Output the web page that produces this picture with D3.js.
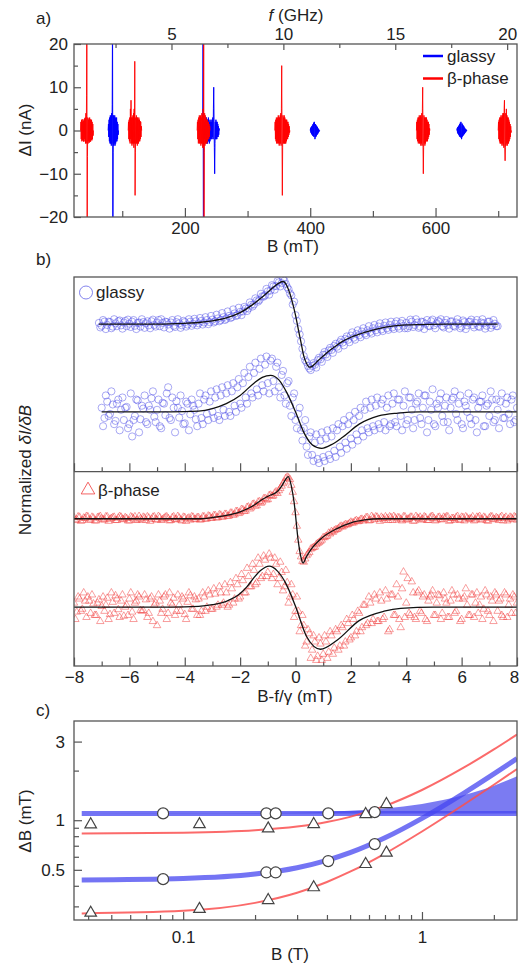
<!DOCTYPE html>
<html>
<head>
<meta charset="utf-8">
<script src="https://cdn.jsdelivr.net/npm/d3@7"></script>
<style>
  body { margin: 0; background: #fff; }
  svg { font-family: "Liberation Sans", Arial, sans-serif; }
</style>
</head>
<body>
<div id="chart"></div>
<script>
// ---------------- panel a: raw traces (field in mT, signal in nA)
const gammaGHz = 0.028;          // GHz per mT
const fieldStep = 0.5;           // mT between samples
const beta43 = [0,2,-2,2.5,-2.5,2,-2.2,2.6,-2.4,2.2,-2.6,2.5,-2,2.8,-2.5,3,-3,4,-3,8,30,-30,-6,3,-3,2.5,-2.5,2.8,-2.8,3,-2.5,2.6,-2.6,2.4,-2.2,2.5,-2.3,2,-2,1.5,-1.2,0];
const beta120 = [0,2,-2,2.5,-2.5,3,-3,5,-2,7,-3,3,-3.5,3,-3,3.5,-3,4,-4,5,-3,16,-15,-5,3,-3,3.5,-3,3,-3.5,3,-3,2.5,-3,3,-2.5,2.5,-2.5,2.2,-2,2,-1.5,1,0];
const beta230 = [0,2,-2,2.5,-3,3,-2.5,3.5,-3,3,-3,3.5,-3.5,3,-3,4,-3,3.5,-4,5,-4,30,-30,-5,4,-3.5,3.5,-3,3,-3,2.5,-3,2.5,-2.5,2,-2,2,-2,1.5,-1.5,1,0];
const beta355 = [0,2,-2,2.5,-2.5,3,-3,2.5,-3,3,-2.5,3.5,-3,3,-3.5,3,-3,3.5,-3,4,-3.5,5,15,-2,-15,-4,3.5,-3,3,-3,3.5,-3,3,-3,2.5,-3,2.5,-2.5,2.5,-2,2,-2,2,-1.5,1.5,-1,1,-0.5,0];
const beta580 = [0,2,-2,2.5,-2.5,3,-3,3,-2.5,3.5,-3,3,-3,3.5,-3.5,3,-3,4,-3.5,5,10,-3,-10,-4,3.5,-3,3,-3.5,3,-3,3,-2.5,3,-2.5,2.5,-2.5,2,-2,2,-1.5,1.5,-1,0.5,0];
const beta710 = [0,2,-2,2.5,-2.5,3,-3,3,-3,3.5,-3,3,-3.5,3.5,-3,4,-3.5,4,-4,5,7,-4,-7,-4,4,-3.5,5,-3,3.5,-3.5,3,-3,3,-3,2.5,-2.5,2,-2,1.5,-1.5,1,-0.5,0];
const glassy85 = [0,1.5,-1.5,2.5,-2.5,3,-3,3.5,-3,3,-3.5,4,-3,6,30,-30,-5,3.5,-3.5,3,-3,3.5,-3.5,3,-3,2.5,-2.5,3,-2.5,2,-2,1.5,-1,0];
const glassy230 = [0,2,30,-30,-2,2,-2,1.5,-1.5,2,-2,2.5,-2.5,3,-3,2.5,-3,2.5,-2.5,3,-2.5,2.5,-3,2,-2.5,2,-2,2.5,-2,2,-2,2.5,-1.5,3,-2,5,10,2,-4,-10,-3,2,-2,2.5,-2,2,-2,2,-1.5,1.5,-1.5,1,-1,0.5,0];
const glassy407 = [0,0.5,-0.5,0.8,-0.8,1,-1,1.2,-1.2,1.5,-1.3,1.8,-1.5,2,1,-2,-1.5,1.5,-1.5,1.2,-1.2,1,-1,0.8,-0.8,0.5,-0.5,0.3,-0.3,0.1,0];
const glassy642 = [0,0.5,-0.5,0.8,-0.8,1,-1,1.2,-1.3,1.5,-1.5,1.8,-1.6,2,1.2,-2,-1.5,1.6,-1.4,1.3,-1.2,1.1,-1,0.9,-0.8,0.6,-0.6,0.4,-0.4,0.3,-0.2,0.1,0];
const glassyBlocks = [
  {start: 77.5, values: glassy85}, {start: 228, values: glassy230},
  {start: 400, values: glassy407}, {start: 634, values: glassy642}
];
const betaBlocks = [
  {start: 33.5, values: beta43}, {start: 109.5, values: beta120},
  {start: 219.5, values: beta230}, {start: 343.5, values: beta355},
  {start: 569.5, values: beta580}, {start: 700, values: beta710}
];
const fieldTicks = [200, 400, 600];
const fieldMinor = [100, 300, 500, 700];
const freqTicks = [5, 10, 15, 20];
const freqMinor = [2.5, 7.5, 12.5, 17.5];
const currentTicks = [-20, -10, 0, 10, 20];
const currentMinor = [-15, -5, 5, 15];

// ---------------- panel b: normalized derivative spectra (B - f/gamma in mT)
// two interleaved sample sets per trace, 0.1 mT apart each
const sweepStep = 0.1;
const glassyNarrowA = [0.03,-0.04,0.06,-0.02,0.05,-0.06,0.02,0.07,-0.03,0.04,-0.05,0.01,0.06,-0.04,0.03,-0.06,0.05,0.02,-0.03,0.07,-0.02,0.04,-0.05,0.03,0.06,-0.01,0.04,-0.04,0.05,0.02,-0.03,
  0.05,-0.01,0.06,0.01,0.07,0.02,0.08,0.04,0.1,0.05,0.11,0.07,0.14,0.1,0.17,0.13,0.2,0.17,0.26,0.22,
  0.3,0.31,0.38,0.38,0.47,0.48,0.58,0.59,0.68,0.7,
  0.8,0.82,0.92,0.93,1.02,1.0,1.06,0.9,0.75,0.48,
  0.22,-0.12,-0.42,-0.78,-0.93,-1.08,-1.02,-0.99,-0.88,-0.86,
  -0.75,-0.74,-0.64,-0.63,-0.53,-0.55,-0.44,-0.45,-0.36,-0.38,
  -0.28,-0.33,-0.24,-0.27,-0.18,-0.23,-0.15,-0.19,-0.1,-0.15,
  -0.06,-0.13,-0.04,-0.1,-0.02,-0.08,0.01,-0.06,0.02,-0.04,
  0.03,-0.05,0.06,-0.02,0.04,-0.06,0.05,0.01,-0.04,0.07,-0.03,0.02,0.05,-0.05,0.03,-0.02,0.06,-0.04,0.04,0.01,-0.06,0.05,-0.03,0.06,-0.02,0.03,-0.05,0.04,0.02,-0.04,0.06,-0.03,0.01,-0.05];
const glassyNarrowB = [-0.08,0.1,-0.12,0.06,-0.1,0.12,-0.05,0.09,-0.11,0.08,0.11,-0.07,0.1,-0.12,0.04,0.12,-0.09,0.07,-0.1,0.11,-0.06,0.1,0.12,-0.08,0.05,-0.11,0.1,-0.07,0.12,-0.09,0.08,
  -0.06,0.12,-0.04,0.13,-0.03,0.15,-0.01,0.17,0.0,0.2,0.04,0.23,0.07,0.27,0.1,0.31,0.15,0.36,0.2,0.4,
  0.22,0.42,0.32,0.53,0.43,0.63,0.55,0.74,0.67,0.86,
  0.72,0.95,0.84,1.05,0.92,1.1,0.98,0.85,0.7,0.55,
  0.08,-0.25,-0.6,-0.88,-1.02,-1.12,-0.95,-1.06,-0.82,-0.92,
  -0.68,-0.8,-0.58,-0.7,-0.48,-0.6,-0.38,-0.52,-0.3,-0.44,
  -0.2,-0.38,-0.15,-0.32,-0.1,-0.27,-0.05,-0.23,-0.02,-0.2,
  0.02,-0.17,0.04,-0.14,0.06,-0.12,0.07,-0.11,0.08,-0.1,
  -0.1,0.11,-0.07,0.12,-0.09,0.06,-0.12,0.1,-0.05,0.11,-0.1,0.08,0.12,-0.08,0.1,-0.11,0.07,-0.06,0.12,-0.1,0.09,-0.12,0.05,0.11,-0.08,0.1,-0.07,0.12,-0.11,0.06,-0.09,0.1,-0.05];
const glassyBroadA = [0.1,-0.15,0.25,-0.05,0.18,-0.22,0.3,0.05,-0.2,0.12,-0.3,-0.6,-0.1,0.28,-0.18,0.08,-0.25,0.15,0.33,-0.12,0.05,-0.35,0.22,-0.08,0.6,-0.2,0.1,0.26,-0.14,0.02,-0.28,0.2,-0.06,0.15,-0.18,
  0.2,-0.15,0.3,-0.05,0.25,0.0,0.35,-0.1,0.4,0.05,
  0.45,0.0,0.5,0.15,0.6,0.2,0.7,0.35,0.85,0.45,
  0.95,0.55,1.05,0.65,1.15,0.7,1.25,0.75,1.1,0.6,
  0.9,0.4,0.7,0.15,0.35,-0.2,-0.05,-0.45,-0.4,-0.85,
  -0.6,-1.05,-0.75,-1.15,-0.7,-1.1,-0.65,-1.05,-0.6,-0.95,
  -0.45,-0.85,-0.35,-0.75,-0.3,-0.65,-0.2,-0.55,-0.1,-0.45,
  0.05,-0.4,0.1,-0.35,0.15,-0.3,0.2,-0.25,0.1,-0.35,
  0.2,-0.25,0.3,-0.1,0.15,-0.3,0.35,0.05,-0.2,0.25,-0.15,0.1,0.4,-0.2,0.05,-0.3,0.2,0.3,-0.1,0.15,-0.25,0.1,0.35,-0.05,0.2,-0.3,0.25,0.0,-0.15,0.3,-0.2,0.1,0.25,-0.35,0.15,-0.1,0.3,-0.2,0.05,0.25,-0.15,0.2,-0.05,0.3,-0.25,0.1];
const glassyBroadB = [-0.35,0.4,-0.1,0.5,-0.3,0.2,-0.45,0.35,0.1,-0.4,0.45,-0.2,0.3,-0.5,0.15,0.4,-0.3,0.05,0.5,-0.25,0.3,-0.4,0.2,0.45,-0.15,0.35,-0.5,0.1,0.4,-0.3,0.25,-0.45,0.3,0.05,-0.35,
  0.45,-0.3,0.4,-0.2,0.5,-0.15,0.55,-0.2,0.6,-0.1,
  0.65,-0.1,0.7,0.0,0.8,0.1,0.95,0.2,1.1,0.35,
  1.2,0.4,1.3,0.5,1.35,0.45,1.3,0.5,1.2,0.35,
  1.0,0.2,0.75,-0.1,0.45,-0.4,0.1,-0.7,-0.2,-1.05,
  -0.5,-1.2,-0.55,-1.25,-0.5,-1.2,-0.45,-1.15,-0.4,-1.1,
  -0.3,-1.0,-0.2,-0.9,-0.1,-0.8,0.0,-0.7,0.1,-0.6,
  0.25,-0.5,0.3,-0.45,0.35,-0.4,0.3,-0.45,0.4,-0.3,
  0.45,-0.35,0.3,-0.45,0.5,-0.2,0.35,-0.4,0.2,0.45,-0.3,0.4,-0.5,0.25,0.55,-0.35,0.1,0.45,-0.25,0.35,-0.45,0.3,0.5,-0.2,0.4,-0.4,0.15,0.45,-0.3,0.35,-0.5,0.25,0.4,-0.35,0.2,0.5,-0.25,0.3,-0.4,0.45,-0.15,0.35,-0.3,0.4,-0.2];
const betaNarrowA = [0.03,-0.02,0.04,-0.04,0.01,0.05,-0.03,0.02,-0.05,0.04,0.0,-0.03,0.05,-0.01,0.03,-0.04,0.02,0.04,-0.02,0.01,-0.05,0.03,0.05,-0.03,0.0,0.04,-0.04,0.02,-0.01,0.05,-0.03,0.03,-0.02,0.04,0.01,-0.04,0.05,-0.02,0.02,-0.05,0.03,0.0,-0.03,0.04,-0.01,
  0.03,-0.02,0.05,0.0,0.06,0.02,0.08,0.03,0.09,0.05,
  0.11,0.07,0.14,0.1,0.18,0.15,0.22,0.19,0.29,0.27,
  0.36,0.32,0.42,0.41,0.5,0.47,0.58,0.56,0.66,0.69,
  0.8,0.9,1.02,0.96,0.65,0.15,-0.52,-0.93,-1.06,-0.9,
  -0.82,-0.72,-0.69,-0.6,-0.55,-0.46,-0.43,-0.35,-0.31,-0.29,
  -0.26,-0.2,-0.2,-0.14,-0.14,-0.08,-0.1,-0.04,-0.06,-0.01,
  -0.02,0.03,-0.04,0.02,0.05,-0.01,0.04,-0.03,0.01,0.05,-0.04,0.02,0.03,-0.02,0.05,-0.03,0.0,0.04,-0.05,0.02,0.04,-0.01,0.03,-0.04,0.05,0.01,-0.03,0.04,-0.02,0.02,0.05,-0.04,0.01,0.03,-0.02,0.04,-0.05,0.02,0.0,0.05,-0.03,0.03,-0.01,0.04,-0.04,0.02,0.05,-0.02,0.01,0.03,-0.05,0.04,-0.01,0.02,0.05,-0.03];
const betaNarrowB = [-0.04,0.05,-0.06,0.02,0.06,-0.03,0.04,-0.05,0.03,0.06,-0.02,0.05,-0.06,0.01,0.04,-0.04,0.06,-0.01,0.03,-0.05,0.05,0.0,-0.04,0.06,-0.03,0.02,0.05,-0.06,0.04,-0.02,0.06,-0.04,0.01,0.05,-0.05,0.03,-0.01,0.06,-0.03,0.04,-0.06,0.02,0.05,-0.02,0.03,
  -0.03,0.05,-0.01,0.07,0.01,0.08,0.02,0.1,0.04,0.11,
  0.06,0.14,0.09,0.18,0.13,0.23,0.18,0.28,0.24,0.35,
  0.31,0.41,0.38,0.49,0.46,0.57,0.55,0.63,0.62,0.74,
  0.86,0.99,1.0,0.82,0.42,-0.18,-0.8,-1.04,-0.98,-0.86,
  -0.74,-0.7,-0.63,-0.58,-0.52,-0.46,-0.42,-0.37,-0.33,-0.27,
  -0.24,-0.18,-0.17,-0.15,-0.11,-0.1,-0.06,-0.07,-0.02,-0.05,
  0.03,-0.05,0.06,-0.02,0.04,-0.06,0.01,0.05,-0.04,0.03,0.06,-0.03,0.02,-0.05,0.05,-0.01,0.04,-0.06,0.06,0.0,-0.03,0.05,-0.04,0.02,0.06,-0.05,0.03,-0.02,0.04,0.05,-0.06,0.01,-0.03,0.06,-0.04,0.03,0.05,-0.02,0.0,-0.05,0.04,0.06,-0.03,0.02,-0.06,0.05,-0.01,0.03,-0.04,0.06,0.01,-0.05,0.04,-0.02,0.03];
const betaBroadA = [0.1,-0.12,0.2,-0.05,0.15,0.25,-0.15,0.08,-0.2,0.18,0.02,-0.1,0.22,-0.18,0.12,0.28,-0.06,0.15,-0.22,0.05,0.2,-0.12,0.1,0.3,-0.08,-0.08,0.18,-0.15,0.25,0.05,-0.45,0.15,-0.05,0.3,-0.15,0.1,0.22,-0.1,0.05,0.25,-0.18,0.12,0.28,-0.05,0.18,
  0.2,-0.1,0.25,0.0,0.3,-0.05,0.32,0.05,0.35,0.1,
  0.35,0.05,0.45,0.2,0.55,0.25,0.65,0.35,0.75,0.5,
  0.9,0.6,1.05,0.75,1.15,0.85,1.2,0.8,1.05,0.7,
  0.85,0.5,0.6,0.25,0.3,-0.1,-0.1,-0.45,-0.45,-0.85,
  -0.65,-1.05,-0.85,-1.2,-0.9,-1.15,-0.85,-1.1,-0.7,-1.0,
  -0.6,-0.95,-0.5,-0.85,-0.4,-0.75,-0.3,-0.6,-0.15,-0.5,
  0.05,-0.4,0.1,-0.3,0.2,-0.35,0.15,-0.25,0.2,-0.55,
  0.3,-0.2,0.25,-0.5,0.86,0.1,-0.15,0.62,-0.25,0.35,
  -0.1,0.25,-0.3,0.15,0.3,-0.2,0.1,0.28,-0.15,0.2,
  -0.25,0.15,0.3,-0.1,0.2,-0.3,0.25,0.05,-0.2,0.3,
  0.1,-0.15,0.25,-0.05,0.3,-0.2,0.15,0.35,-0.1,0.2,
  -0.25,0.3,0.05,-0.15,0.25,0.1];
const betaBroadB = [-0.3,0.25,-0.1,0.35,-0.25,0.15,0.3,-0.2,0.1,-0.35,0.25,0.05,-0.3,0.35,-0.15,0.2,-0.25,0.3,0.0,-0.2,0.35,-0.3,0.15,0.25,-0.1,0.3,-0.25,0.2,-0.35,0.1,0.3,-0.15,0.25,-0.3,0.35,0.05,-0.2,0.3,-0.1,0.2,-0.3,0.35,-0.05,0.25,-0.2,
  -0.2,0.35,-0.1,0.4,-0.05,0.45,0.0,0.5,0.05,0.55,
  0.0,0.6,0.1,0.7,0.2,0.8,0.35,0.95,0.5,1.05,
  0.55,1.2,0.7,1.25,0.75,1.3,0.7,1.2,0.55,1.1,
  0.4,0.9,0.1,0.55,-0.25,0.25,-0.6,-0.2,-0.95,-0.55,
  -1.25,-0.7,-1.3,-0.75,-1.3,-0.7,-1.25,-0.6,-1.15,-0.55,
  -1.05,-0.45,-0.95,-0.3,-0.8,-0.2,-0.7,-0.1,-0.6,0.05,
  -0.45,0.25,-0.4,0.3,-0.35,0.35,-0.3,0.4,-0.6,0.3,-0.2,0.55,-0.3,0.45,-0.25,0.7,-0.2,0.35,-0.3,0.4,-0.15,0.3,-0.35,0.25,0.4,-0.2,0.3,-0.3,0.35,0.1,-0.25,0.4,-0.15,0.3,-0.35,0.2,0.45,-0.2,0.3,-0.25,0.35,0.05,-0.3,0.4,-0.1,0.25,-0.35,0.3,0.15,-0.2,0.35,-0.25,0.2,0.3,-0.15];
const glassyBroadOffset = -2.14;
const betaBroadOffset = -2.16;

// fitted curves
const glassyNarrowFitX = [-7.1,-5,-4,-3.5,-3,-2.5,-2,-1.5,-1.2,-1,-0.8,-0.6,-0.45,-0.3,-0.2,-0.1,0,0.1,0.2,0.3,0.4,0.5,0.6,0.7,0.8,1,1.2,1.4,1.7,2,2.5,3,3.5,4,4.5,5.5,7.3];
const glassyNarrowFitY = [0,0,0.02,0.04,0.08,0.15,0.28,0.5,0.66,0.78,0.9,1.0,1.04,0.92,0.74,0.5,0.22,-0.12,-0.45,-0.78,-0.96,-1.05,-1.03,-0.97,-0.9,-0.78,-0.66,-0.56,-0.42,-0.32,-0.2,-0.11,-0.05,-0.02,-0.01,0,0];
const glassyBroadFitX = [-7,-4.5,-3.5,-3,-2.5,-2,-1.5,-1.2,-0.9,-0.6,-0.3,0,0.3,0.6,0.95,1.3,1.7,2.3,3,3.7,4.5,8];
const glassyBroadFitY = [0,0,0.02,0.08,0.2,0.4,0.7,0.84,0.89,0.78,0.45,0,-0.5,-0.8,-0.89,-0.8,-0.62,-0.3,-0.1,-0.03,0,0];
const betaNarrowFitX = [-8,-4,-3.5,-3,-2.5,-2,-1.5,-1.2,-0.9,-0.7,-0.5,-0.35,-0.26,-0.15,-0.05,0.1,0.2,0.27,0.4,0.55,0.9,1.5,2,2.5,3,8];
const betaNarrowFitY = [0,0,0,0.03,0.08,0.17,0.33,0.47,0.58,0.64,0.8,0.97,1.03,0.8,0.4,-0.55,-0.95,-1.08,-0.92,-0.76,-0.5,-0.24,-0.1,-0.03,0,0];
const betaBroadFitX = [-8,-4.5,-3.5,-3,-2.5,-2,-1.75,-1.5,-1.25,-0.95,-0.65,-0.35,0,0.4,0.9,1.5,2.3,3.2,3.8,5,8];
const betaBroadFitY = [0,0,0.02,0.06,0.14,0.33,0.5,0.72,0.9,1.0,0.88,0.58,0.02,-0.72,-1.03,-0.81,-0.33,-0.1,-0.03,0,0];
const offsetTicks = [-8, -6, -4, -2, 0, 2, 4, 6, 8];
const offsetMinor = [-7, -5, -3, -1, 1, 3, 5, 7];

// ---------------- panel c: linewidth vs field (B in T, dB in mT)
const fitField = [0.0376, 0.1, 0.2, 0.3, 0.4, 0.5, 0.7, 1, 1.5, 2, 2.5];
const glassyWideLow = [1.1, 1.1, 1.1, 1.1, 1.1, 1.1, 1.1, 1.1, 1.1, 1.1, 1.1];
const glassyWideHigh = [1.1, 1.102, 1.107, 1.115, 1.126, 1.14, 1.18, 1.255, 1.42, 1.62, 1.85];
const glassyNarrowFit = [0.434, 0.443, 0.471, 0.515, 0.571, 0.635, 0.782, 1.026, 1.461, 1.91, 2.365];
const betaWideFit = [0.83, 0.84, 0.869, 0.915, 0.975, 1.048, 1.221, 1.525, 2.09, 2.69, 3.31];
const betaNarrowFitC = [0.272, 0.282, 0.315, 0.363, 0.422, 0.487, 0.628, 0.854, 1.245, 1.642, 2.043];
const glassyField = [0.0824, 0.223, 0.244, 0.405, 0.634];
const glassyWide = [1.1, 1.1, 1.1, 1.1, 1.12];
const glassyNarrowW = [0.439, 0.482, 0.482, 0.565, 0.716];
const betaField = [0.041, 0.117, 0.227, 0.352, 0.581, 0.71];
const betaWide = [0.942, 0.945, 0.89, 0.946, 1.087, 1.25];
const betaNarrowW = [0.274, 0.289, 0.327, 0.391, 0.541, 0.634];
const bTicks = [0.1, 1];
const bMinor = [0.04, 0.05, 0.06, 0.07, 0.08, 0.09, 0.2, 0.3, 0.4, 0.5, 0.6, 0.7, 0.8, 0.9, 2];
const dbTicks = [0.5, 1, 3];
const dbMinor = [0.3, 0.4, 0.6, 0.7, 0.8, 0.9, 2];

// ---------------- drawing
const frameColor = "#555";
const textColor = "#222";
const fontSize = 17;
const blue = "#0000ff", red = "#ff0000";

const svg = d3.select("#chart").append("svg")
    .attr("width", 520)
    .attr("height", 970);

function styleAxis(g) {
  g.select(".domain").remove();
  g.attr("font-family", null).attr("font-size", fontSize);
  g.selectAll("line").attr("stroke", frameColor).attr("stroke-width", 1.2);
  g.selectAll("text").attr("fill", textColor);
}

function frame(p, top, bottom) {
  svg.append("rect")
    .attr("x", p.left).attr("y", top)
    .attr("width", p.right - p.left).attr("height", bottom - top)
    .attr("fill", "none").attr("stroke", frameColor).attr("stroke-width", 1.3);
}

function clip(id, p, top, bottom) {
  svg.append("clipPath").attr("id", id).append("rect")
    .attr("x", p.left).attr("y", top)
    .attr("width", p.right - p.left).attr("height", bottom - top);
  return svg.append("g").attr("clip-path", `url(#${id})`);
}

function label(x, y, txt, anchor) {
  return svg.append("text").attr("x", x).attr("y", y)
    .attr("font-size", fontSize).attr("fill", textColor)
    .attr("text-anchor", anchor || "start").text(txt);
}

// ===== panel a
const pa = {left: 74, right: 517, top: 44, bottom: 217};
const xA = d3.scaleLinear().domain([23, 730]).range([pa.left, pa.right]);
const fA = d3.scaleLinear().domain([23 * gammaGHz, 730 * gammaGHz]).range([pa.left, pa.right]);
const yA = d3.scaleLinear().domain([-20, 20]).range([pa.bottom, pa.top]);

svg.append("g").attr("transform", `translate(0,${pa.bottom})`)
  .call(d3.axisBottom(xA).tickValues(fieldMinor).tickSize(-6).tickFormat(""))
  .call(styleAxis);
svg.append("g").attr("transform", `translate(0,${pa.bottom})`)
  .call(d3.axisBottom(xA).tickValues(fieldTicks).tickSize(-9).tickPadding(5))
  .call(styleAxis);
svg.append("g").attr("transform", `translate(0,${pa.top})`)
  .call(d3.axisTop(fA).tickValues(freqMinor).tickSize(-4).tickFormat(""))
  .call(styleAxis);
svg.append("g").attr("transform", `translate(0,${pa.top})`)
  .call(d3.axisTop(fA).tickValues(freqTicks).tickSize(-6).tickPadding(4))
  .call(styleAxis);
svg.append("g").attr("transform", `translate(${pa.left},0)`)
  .call(d3.axisLeft(yA).tickValues(currentMinor).tickSize(-4).tickFormat(""))
  .call(styleAxis);
svg.append("g").attr("transform", `translate(${pa.left},0)`)
  .call(d3.axisLeft(yA).tickValues(currentTicks).tickSize(-7).tickPadding(6))
  .call(styleAxis);

const plotA = clip("clipA", pa, pa.top, pa.bottom);
const lineA = d3.line().x(d => xA(d[0])).y(d => yA(d[1]));
const blockPoints = b => b.values.map((v, i) => [b.start + i * fieldStep, v]);

plotA.selectAll(".trace-g").data(glassyBlocks).join("path")
  .attr("d", b => lineA(blockPoints(b)))
  .attr("fill", "none").attr("stroke", blue).attr("stroke-width", 1);
plotA.selectAll(".trace-b").data(betaBlocks).join("path")
  .attr("d", b => lineA(blockPoints(b)))
  .attr("fill", "none").attr("stroke", red).attr("stroke-width", 1)
  .attr("stroke-opacity", 0.9);
frame(pa, pa.top, pa.bottom);

// legend a
svg.append("line").attr("x1", 423).attr("x2", 443).attr("y1", 56).attr("y2", 56)
  .attr("stroke", blue).attr("stroke-width", 2.5);
svg.append("line").attr("x1", 423).attr("x2", 443).attr("y1", 78.5).attr("y2", 78.5)
  .attr("stroke", red).attr("stroke-width", 2.5);
label(447, 62, "glassy");
label(447, 84, "β-phase");

label(36, 24, "a)");
const fTitle = label(296, 21, "", "middle");
fTitle.append("tspan").attr("font-style", "italic").text("f");
fTitle.append("tspan").text(" (GHz)");
label(293, 252, "B (mT)", "middle");
svg.append("text").attr("transform", "translate(31,130) rotate(-90)")
  .attr("text-anchor", "middle").attr("font-size", fontSize).attr("fill", textColor)
  .text("ΔI (nA)");

// ===== panel b
const pb = {left: 74, right: 517, top: 277, mid: 471.7, bottom: 666};
const xB = d3.scaleLinear().domain([-8, 8]).range([pb.left, pb.right]);
const yBtop = d3.scaleLinear().domain([-3.6, 1.15]).range([pb.mid, pb.top]);
const yBbot = d3.scaleLinear().domain([-3.6, 1.15]).range([pb.bottom, pb.mid]);

[pb.mid, pb.bottom].forEach((yy, k) => {
  svg.append("g").attr("transform", `translate(0,${yy})`)
    .call(d3.axisBottom(xB).tickValues(offsetMinor).tickSize(-4.5).tickFormat(""))
    .call(styleAxis);
  const major = d3.axisBottom(xB).tickValues(offsetTicks).tickSize(-8.5).tickPadding(5);
  if (k === 0) major.tickFormat("");
  const g = svg.append("g").attr("transform", `translate(0,${yy})`)
    .call(major).call(styleAxis);
  // keep the last label inside the page edge
  g.selectAll("text").filter(d => d === 8).attr("dx", -3);
});

const glassyColor = "rgb(80,80,230)";
const betaColor = "rgb(240,60,60)";
const sweepPoints = (start, values, offset) =>
  values.map((v, i) => [start + i * sweepStep, v + offset]);

const plotBtop = clip("clipBtop", pb, pb.top, pb.mid);
const plotBbot = clip("clipBbot", pb, pb.mid, pb.bottom);

function circles(g, pts, yS) {
  g.append("g").selectAll("circle").data(pts).join("circle")
    .attr("cx", d => xB(d[0])).attr("cy", d => yS(d[1])).attr("r", 3.6)
    .attr("fill", "none").attr("stroke", glassyColor)
    .attr("stroke-width", 0.9).attr("stroke-opacity", 0.55);
}
function triangles(g, pts, yS) {
  g.append("g").selectAll("path").data(pts).join("path")
    .attr("transform", d => `translate(${xB(d[0])},${yS(d[1])})`)
    .attr("d", d3.symbol(d3.symbolTriangle, 24))
    .attr("fill", "none").attr("stroke", betaColor)
    .attr("stroke-width", 0.9).attr("stroke-opacity", 0.55);
}
function fitLine(g, xs, ys, offset, yS) {
  const line = d3.line().x(d => xB(d[0])).y(d => yS(d[1] + offset)).curve(d3.curveMonotoneX);
  g.append("path").attr("d", line(d3.zip(xs, ys)))
    .attr("fill", "none").attr("stroke", "#111").attr("stroke-width", 1.3);
}

circles(plotBtop, sweepPoints(-7.1, glassyNarrowA, 0), yBtop);
circles(plotBtop, sweepPoints(-7.05, glassyNarrowB, 0), yBtop);
circles(plotBtop, sweepPoints(-7.0, glassyBroadA, glassyBroadOffset), yBtop);
circles(plotBtop, sweepPoints(-6.95, glassyBroadB, glassyBroadOffset), yBtop);
fitLine(plotBtop, glassyNarrowFitX, glassyNarrowFitY, 0, yBtop);
fitLine(plotBtop, glassyBroadFitX, glassyBroadFitY, glassyBroadOffset, yBtop);

triangles(plotBbot, sweepPoints(-8.0, betaNarrowA, 0), yBbot);
triangles(plotBbot, sweepPoints(-7.95, betaNarrowB, 0), yBbot);
triangles(plotBbot, sweepPoints(-8.0, betaBroadA, betaBroadOffset), yBbot);
triangles(plotBbot, sweepPoints(-7.95, betaBroadB, betaBroadOffset), yBbot);
fitLine(plotBbot, betaNarrowFitX, betaNarrowFitY, 0, yBbot);
fitLine(plotBbot, betaBroadFitX, betaBroadFitY, betaBroadOffset, yBbot);

frame(pb, pb.top, pb.bottom);
svg.append("line").attr("x1", pb.left).attr("x2", pb.right)
  .attr("y1", pb.mid).attr("y2", pb.mid)
  .attr("stroke", frameColor).attr("stroke-width", 1.3);

// legend b
svg.append("circle").attr("cx", 86).attr("cy", 292.5).attr("r", 6.5)
  .attr("fill", "none").attr("stroke", glassyColor).attr("stroke-opacity", 0.7);
label(96, 298, "glassy");
svg.append("path").attr("transform", "translate(88,490)")
  .attr("d", d3.symbol(d3.symbolTriangle, 80))
  .attr("fill", "none").attr("stroke", betaColor).attr("stroke-opacity", 0.8);
label(98, 496, "β-phase");

label(36, 265, "b)");
label(295, 702, "B-f/γ (mT)", "middle");
const yTitleB = svg.append("text").attr("transform", "translate(31,470) rotate(-90)")
  .attr("text-anchor", "middle").attr("font-size", fontSize).attr("fill", textColor);
yTitleB.append("tspan").text("Normalized ");
yTitleB.append("tspan").attr("font-style", "italic").text("δI/δB");

// ===== panel c
const pc = {left: 74, right: 517, top: 721, bottom: 920};
const xC = d3.scaleLog().domain([0.0349, 2.5]).range([pc.left, pc.right]);
const yC = d3.scaleLog().domain([0.248, 4.0]).range([pc.bottom, pc.top]);

svg.append("g").attr("transform", `translate(0,${pc.bottom})`)
  .call(d3.axisBottom(xC).tickValues(bMinor).tickSize(-5).tickFormat(""))
  .call(styleAxis);
svg.append("g").attr("transform", `translate(0,${pc.bottom})`)
  .call(d3.axisBottom(xC).tickValues(bTicks).tickSize(-8).tickPadding(11).tickFormat(d => d))
  .call(styleAxis);
svg.append("g").attr("transform", `translate(${pc.left},0)`)
  .call(d3.axisLeft(yC).tickValues(dbMinor).tickSize(-5).tickFormat(""))
  .call(styleAxis);
svg.append("g").attr("transform", `translate(${pc.left},0)`)
  .call(d3.axisLeft(yC).tickValues(dbTicks).tickSize(-8).tickPadding(9).tickFormat(d => d))
  .call(styleAxis);

const plotC = clip("clipC", pc, pc.top, pc.bottom);
const lineC = d3.line().x(d => xC(d[0])).y(d => yC(d[1])).curve(d3.curveMonotoneX);
const areaC = d3.area().x(d => xC(d[0])).y0(d => yC(d[1])).y1(d => yC(d[2]))
  .curve(d3.curveMonotoneX);

plotC.append("path")
  .attr("d", areaC(d3.zip(fitField, glassyWideLow, glassyWideHigh)))
  .attr("fill", "rgb(100,100,240)").attr("fill-opacity", 0.85);
[glassyWideLow, glassyNarrowFit].forEach(vals => {
  plotC.append("path").attr("d", lineC(d3.zip(fitField, vals)))
    .attr("fill", "none").attr("stroke", "rgb(70,70,240)")
    .attr("stroke-width", 5).attr("stroke-opacity", 0.75);
});
[betaWideFit, betaNarrowFitC].forEach(vals => {
  plotC.append("path").attr("d", lineC(d3.zip(fitField, vals)))
    .attr("fill", "none").attr("stroke", "rgb(250,80,80)")
    .attr("stroke-width", 2).attr("stroke-opacity", 0.85);
});

[glassyWide, glassyNarrowW].forEach(vals => {
  plotC.append("g").selectAll("circle").data(d3.zip(glassyField, vals)).join("circle")
    .attr("cx", d => xC(d[0])).attr("cy", d => yC(d[1])).attr("r", 5.5)
    .attr("fill", "#fff").attr("stroke", "#444").attr("stroke-width", 1.2);
});
[betaWide, betaNarrowW].forEach(vals => {
  plotC.append("g").selectAll("path").data(d3.zip(betaField, vals)).join("path")
    .attr("transform", d => `translate(${xC(d[0])},${yC(d[1])})`)
    .attr("d", d3.symbol(d3.symbolTriangle, 58))
    .attr("fill", "#fff").attr("stroke", "#444").attr("stroke-width", 1.2);
});
frame(pc, pc.top, pc.bottom);

label(36, 716, "c)");
label(290, 960, "B (T)", "middle");
svg.append("text").attr("transform", "translate(31,821) rotate(-90)")
  .attr("text-anchor", "middle").attr("font-size", fontSize).attr("fill", textColor)
  .text("ΔB (mT)");
</script>
</body>
</html>
